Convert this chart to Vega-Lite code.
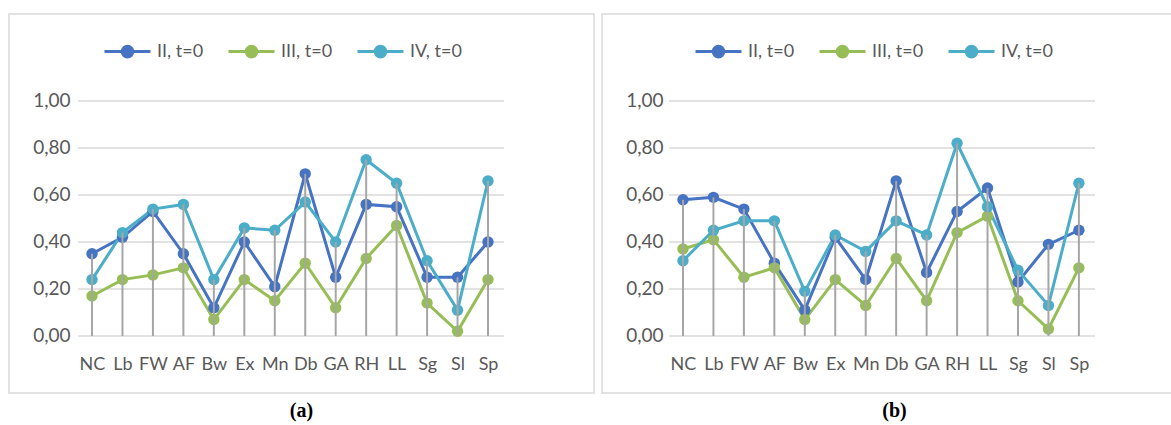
{
 "$schema": "https://vega.github.io/schema/vega-lite/v6.json",
 "padding": {"left": 8, "top": 13, "right": 0, "bottom": 0},
 "autosize": {"type": "pad"},
 "background": "white",
 "spacing": 6,
 "datasets": {
  "a": [
   {"c":"NC","i":0,"II, t=0":0.35,"III, t=0":0.17,"IV, t=0":0.24},
   {"c":"Lb","i":1,"II, t=0":0.42,"III, t=0":0.24,"IV, t=0":0.44},
   {"c":"FW","i":2,"II, t=0":0.53,"III, t=0":0.26,"IV, t=0":0.54},
   {"c":"AF","i":3,"II, t=0":0.35,"III, t=0":0.29,"IV, t=0":0.56},
   {"c":"Bw","i":4,"II, t=0":0.12,"III, t=0":0.07,"IV, t=0":0.24},
   {"c":"Ex","i":5,"II, t=0":0.40,"III, t=0":0.24,"IV, t=0":0.46},
   {"c":"Mn","i":6,"II, t=0":0.21,"III, t=0":0.15,"IV, t=0":0.45},
   {"c":"Db","i":7,"II, t=0":0.69,"III, t=0":0.31,"IV, t=0":0.57},
   {"c":"GA","i":8,"II, t=0":0.25,"III, t=0":0.12,"IV, t=0":0.40},
   {"c":"RH","i":9,"II, t=0":0.56,"III, t=0":0.33,"IV, t=0":0.75},
   {"c":"LL","i":10,"II, t=0":0.55,"III, t=0":0.47,"IV, t=0":0.65},
   {"c":"Sg","i":11,"II, t=0":0.25,"III, t=0":0.14,"IV, t=0":0.32},
   {"c":"Sl","i":12,"II, t=0":0.25,"III, t=0":0.02,"IV, t=0":0.11},
   {"c":"Sp","i":13,"II, t=0":0.40,"III, t=0":0.24,"IV, t=0":0.66}
  ],
  "b": [
   {"c":"NC","i":0,"II, t=0":0.58,"III, t=0":0.37,"IV, t=0":0.32},
   {"c":"Lb","i":1,"II, t=0":0.59,"III, t=0":0.41,"IV, t=0":0.45},
   {"c":"FW","i":2,"II, t=0":0.54,"III, t=0":0.25,"IV, t=0":0.49},
   {"c":"AF","i":3,"II, t=0":0.31,"III, t=0":0.29,"IV, t=0":0.49},
   {"c":"Bw","i":4,"II, t=0":0.11,"III, t=0":0.07,"IV, t=0":0.19},
   {"c":"Ex","i":5,"II, t=0":0.42,"III, t=0":0.24,"IV, t=0":0.43},
   {"c":"Mn","i":6,"II, t=0":0.24,"III, t=0":0.13,"IV, t=0":0.36},
   {"c":"Db","i":7,"II, t=0":0.66,"III, t=0":0.33,"IV, t=0":0.49},
   {"c":"GA","i":8,"II, t=0":0.27,"III, t=0":0.15,"IV, t=0":0.43},
   {"c":"RH","i":9,"II, t=0":0.53,"III, t=0":0.44,"IV, t=0":0.82},
   {"c":"LL","i":10,"II, t=0":0.63,"III, t=0":0.51,"IV, t=0":0.55},
   {"c":"Sg","i":11,"II, t=0":0.23,"III, t=0":0.15,"IV, t=0":0.28},
   {"c":"Sl","i":12,"II, t=0":0.39,"III, t=0":0.03,"IV, t=0":0.13},
   {"c":"Sp","i":13,"II, t=0":0.45,"III, t=0":0.29,"IV, t=0":0.65}
  ],
  "ticksY": [{"g":0},{"g":0.2},{"g":0.4},{"g":0.6},{"g":0.8},{"g":1}]
 },
 "config": {
  "view": {"stroke": "#D9D9D9", "strokeWidth": 1.5},
  "font": "Lato",
  "axis": {"labelFont": "Lato", "labelFontSize": 18, "labelColor": "#595959", "domain": false, "ticks": false, "grid": false, "title": null, "labelPadding": 0, "labelBaseline": "middle"},
  "axisX": {"labelExpr": "datum.value >= 0 && datum.value <= 13 ? ['NC','Lb','FW','AF','Bw','Ex','Mn','Db','GA','RH','LL','Sg','Sl','Sp'][datum.value] : ''", "offset": -29, "labelFlush": false, "labelOverlap": false},
  "axisY": {"labelExpr": "datum.value < -0.001 || datum.value > 1.001 ? '' : replace(format(datum.value, '.2f'), '.', ',')", "offset": -61, "labelAlign": "right", "labelFontSize": 19},
  "legend": {"labelFont": "Lato", "labelFontSize": 18, "labelColor": "#595959"}
 },
 "resolve": {"legend": {"color": "independent"}},
 "hconcat": [
  {
   "width": 585, "height": 379,
   "title": {"text": "(a)", "orient": "bottom", "anchor": "middle", "font": "Liberation Serif", "fontSize": 20, "fontWeight": "bold", "color": "#000000", "offset": 8, "baseline": "top"},
   "layer": [
    {"data": {"name": "ticksY"}, "mark": {"type": "rule", "stroke": "#D9D9D9", "strokeWidth": 1.5},
     "encoding": {"y": {"field": "g", "type": "quantitative", "scale": {"domain": [-0.2426, 1.3702], "nice": false, "zero": false}, "axis": {"values": [0,0.2,0.4,0.6,0.8,1]}},
                  "x": {"datum": -0.46, "type": "quantitative", "scale": {"domain": [-2.725, 16.48], "nice": false, "zero": false}, "axis": {"values": [0,1,2,3,4,5,6,7,8,9,10,11,12,13]}}, "x2": {"datum": 13.53}}},
    {"data": {"name": "a"}, "transform": [{"fold": ["II, t=0","III, t=0","IV, t=0"], "as": ["s","v"]}],
     "mark": {"type": "line", "strokeWidth": 3},
     "encoding": {
      "x": {"field": "i", "type": "quantitative"},
      "y": {"field": "v", "type": "quantitative"},
      "color": {"field": "s", "type": "nominal", "scale": {"domain": ["II, t=0","III, t=0","IV, t=0"], "range": ["#4673C2","#97BE56","#4BADC8"]},
        "legend": {"orient": "none", "legendX": 94, "legendY": 13, "direction": "horizontal", "title": null, "symbolType": "M-1,0H1M-0.23,0A0.23,0.23,0,1,0,0.23,0A0.23,0.23,0,1,0,-0.23,0Z", "symbolSize": 2116, "symbolStrokeWidth": 3, "labelOffset": 5, "columnPadding": 18, "padding": 0}}}},
    {"data": {"name": "a"}, "transform": [{"fold": ["II, t=0","III, t=0","IV, t=0"], "as": ["s","v"]}],
     "mark": {"type": "point", "filled": true, "size": 130, "opacity": 1},
     "encoding": {
      "x": {"field": "i", "type": "quantitative"},
      "y": {"field": "v", "type": "quantitative"},
      "color": {"field": "s", "type": "nominal"}}},
    {"data": {"name": "a"}, "transform": [{"fold": ["II, t=0","III, t=0","IV, t=0"], "as": ["s","v"]}, {"aggregate": [{"op": "max", "field": "v", "as": "m"}], "groupby": ["i"]}],
     "mark": {"type": "rule", "color": "#A6A6A6", "strokeWidth": 2},
     "encoding": {
      "x": {"field": "i", "type": "quantitative"},
      "y": {"field": "m", "type": "quantitative"}, "y2": {"datum": 0}}}
   ]
  },
  {
   "width": 585, "height": 379,
   "title": {"text": "(b)", "orient": "bottom", "anchor": "middle", "font": "Liberation Serif", "fontSize": 20, "fontWeight": "bold", "color": "#000000", "offset": 8, "baseline": "top"},
   "layer": [
    {"data": {"name": "ticksY"}, "mark": {"type": "rule", "stroke": "#D9D9D9", "strokeWidth": 1.5},
     "encoding": {"y": {"field": "g", "type": "quantitative", "scale": {"domain": [-0.2426, 1.3702], "nice": false, "zero": false}, "axis": {"values": [0,0.2,0.4,0.6,0.8,1]}},
                  "x": {"datum": -0.46, "type": "quantitative", "scale": {"domain": [-2.659, 16.55], "nice": false, "zero": false}, "axis": {"values": [0,1,2,3,4,5,6,7,8,9,10,11,12,13]}}, "x2": {"datum": 13.53}}},
    {"data": {"name": "b"}, "transform": [{"fold": ["II, t=0","III, t=0","IV, t=0"], "as": ["s","v"]}],
     "mark": {"type": "line", "strokeWidth": 3},
     "encoding": {
      "x": {"field": "i", "type": "quantitative"},
      "y": {"field": "v", "type": "quantitative"},
      "color": {"field": "s", "type": "nominal", "scale": {"domain": ["II, t=0","III, t=0","IV, t=0"], "range": ["#4673C2","#97BE56","#4BADC8"]},
        "legend": {"orient": "none", "legendX": 92, "legendY": 13, "direction": "horizontal", "title": null, "symbolType": "M-1,0H1M-0.23,0A0.23,0.23,0,1,0,0.23,0A0.23,0.23,0,1,0,-0.23,0Z", "symbolSize": 2116, "symbolStrokeWidth": 3, "labelOffset": 5, "columnPadding": 18, "padding": 0}}}},
    {"data": {"name": "b"}, "transform": [{"fold": ["II, t=0","III, t=0","IV, t=0"], "as": ["s","v"]}],
     "mark": {"type": "point", "filled": true, "size": 130, "opacity": 1},
     "encoding": {
      "x": {"field": "i", "type": "quantitative"},
      "y": {"field": "v", "type": "quantitative"},
      "color": {"field": "s", "type": "nominal"}}},
    {"data": {"name": "b"}, "transform": [{"fold": ["II, t=0","III, t=0","IV, t=0"], "as": ["s","v"]}, {"aggregate": [{"op": "max", "field": "v", "as": "m"}], "groupby": ["i"]}],
     "mark": {"type": "rule", "color": "#A6A6A6", "strokeWidth": 2},
     "encoding": {
      "x": {"field": "i", "type": "quantitative"},
      "y": {"field": "m", "type": "quantitative"}, "y2": {"datum": 0}}}
   ]
  }
 ]
}
